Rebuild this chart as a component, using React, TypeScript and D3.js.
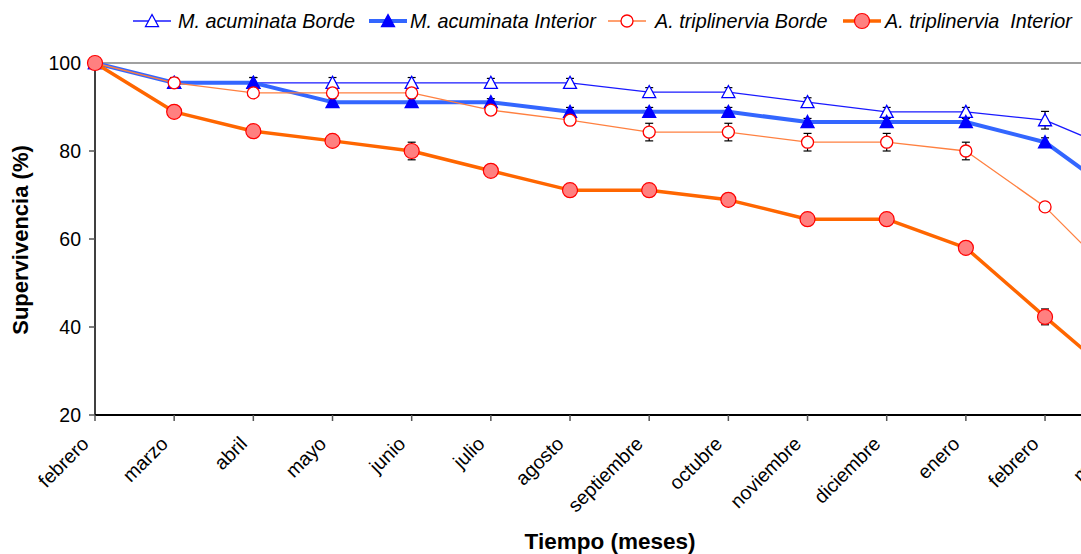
import React from "react";
import * as d3 from "d3";

const months = [
  "febrero", "marzo", "abril", "mayo", "junio", "julio", "agosto",
  "septiembre", "octubre", "noviembre", "diciembre", "enero", "febrero", "marzo",
];

const yTicks = [20, 40, 60, 80, 100];

const maBorde = [100, 95.5, 95.5, 95.5, 95.5, 95.5, 95.5, 93.4, 93.4, 91.1, 88.9, 88.9, 87, 79.5];
const maBordeErr = [0, 0.6, 1.2, 1.2, 1.2, 1.0, 1.0, 1.0, 1.0, 1.0, 1.0, 1.0, 2.0, 0];
const maInterior = [100, 95.5, 95.5, 91.1, 91.1, 91.1, 88.9, 88.9, 88.9, 86.6, 86.6, 86.6, 82, 69];
const maInteriorErr = [0, 1.2, 1.2, 0.8, 0.8, 0.8, 1.0, 1.0, 1.0, 0.8, 0.8, 0.8, 1.0, 0];
const atBorde = [100, 95.5, 93.2, 93.2, 93.2, 89.3, 87, 84.3, 84.3, 82, 82, 80, 67.3, 49.3];
const atBordeErr = [0, 0.5, 0.8, 0.8, 0.8, 0.8, 1.0, 2.0, 2.0, 2.0, 2.0, 2.0, 1.0, 0];
const atInterior = [100, 88.9, 84.5, 82.3, 80, 75.5, 71.1, 71.1, 68.9, 64.5, 64.5, 58, 42.3, 27];
const atInteriorErr = [0, 0, 0, 0, 2.0, 0, 0, 0, 0, 0, 0, 0, 1.8, 0];

type Series = {
  name: string;
  values: number[];
  err: number[];
  line: string;
  width: number;
  marker: "triOpen" | "triFill" | "circOpen" | "circFill";
};

const series: Series[] = [
  { name: "M. acuminata Borde", values: maBorde, err: maBordeErr, line: "#1a1aff", width: 1.3, marker: "triOpen" },
  { name: "M. acuminata Interior", values: maInterior, err: maInteriorErr, line: "#3366ff", width: 4, marker: "triFill" },
  { name: "A. triplinervia Borde", values: atBorde, err: atBordeErr, line: "#ff8040", width: 1.3, marker: "circOpen" },
  { name: "A. triplinervia\u00a0\u00a0Interior", values: atInterior, err: atInteriorErr, line: "#ff6600", width: 3.5, marker: "circFill" },
];

const W = 1081;
const H = 554;
const left = 95;
const top = 63;
const bottom = 415;
const step = 79.17;

const x = d3.scaleLinear().domain([0, months.length - 1]).range([left, left + step * (months.length - 1)]);
const y = d3.scaleLinear().domain([20, 100]).range([bottom, top]);

const font = "'Liberation Sans', Arial, sans-serif";

function Marker({ kind, cx, cy }: { kind: Series["marker"]; cx: number; cy: number }) {
  if (kind === "triOpen" || kind === "triFill") {
    const s = 6.5;
    const pts = `${cx},${cy - s} ${cx + s},${cy + s * 0.85} ${cx - s},${cy + s * 0.85}`;
    return (
      <polygon
        points={pts}
        fill={kind === "triFill" ? "#0000ff" : "#ffffff"}
        stroke="#0000ff"
        strokeWidth={1.3}
      />
    );
  }
  if (kind === "circOpen") {
    return <circle cx={cx} cy={cy} r={6} fill="#ffffff" stroke="#ff0000" strokeWidth={1.3} />;
  }
  return <circle cx={cx} cy={cy} r={7.5} fill="#ff8080" stroke="#ff0000" strokeWidth={1.2} />;
}

export default function App() {
  const lineGen = d3
    .line<number>()
    .x((_, i) => x(i))
    .y((d) => y(d));

  const legendItems = [
    { lx: 133, tx: 178 },
    { lx: 369, tx: 410 },
    { lx: 608, tx: 655 },
    { lx: 843, tx: 885 },
  ];

  return (
    <svg
      width={W}
      height={H}
      style={{ position: "absolute", left: 0, top: 0, background: "#ffffff" }}
      fontFamily={font}
    >
      {/* frame line at the top of the plot area */}
      <line x1={left} x2={W} y1={top} y2={top} stroke="#808080" strokeWidth={1.5} />

      {/* y axis */}
      <line x1={left} x2={left} y1={top} y2={bottom} stroke="#000" strokeWidth={1.5} />
      {yTicks.map((t) => (
        <g key={t}>
          <line x1={left - 6} x2={left} y1={y(t)} y2={y(t)} stroke="#555" strokeWidth={1.5} />
          <text x={left - 14} y={y(t)} dy="0.36em" textAnchor="end" fontSize={19.5} fill="#000">
            {t}
          </text>
        </g>
      ))}

      {/* x axis */}
      <line x1={left} x2={W} y1={bottom} y2={bottom} stroke="#000" strokeWidth={2} />
      {months.map((m, i) => (
        <g key={i}>
          <line x1={x(i)} x2={x(i)} y1={bottom} y2={bottom + 6} stroke="#555" strokeWidth={1.5} />
          <text
            transform={`translate(${x(i) - 5},${bottom + 30}) rotate(-45)`}
            textAnchor="end"
            fontSize={19.5}
            fill="#000"
          >
            {m}
          </text>
        </g>
      ))}

      {/* axis titles */}
      <text
        transform={`translate(28,${(top + bottom) / 2 + 1}) rotate(-90)`}
        textAnchor="middle"
        fontSize={22}
        fontWeight="bold"
        fill="#000"
      >
        Supervivencia (%)
      </text>
      <text x={610} y={549} textAnchor="middle" fontSize={22.5} fontWeight="bold" fill="#000">
        Tiempo (meses)
      </text>

      {/* series */}
      {series.map((s) => (
        <g key={s.name}>
          <path d={lineGen(s.values) || ""} fill="none" stroke={s.line} strokeWidth={s.width} strokeLinejoin="round" />
          {s.values.map((v, i) =>
            s.err[i] > 0 ? (
              <g key={i} stroke="#000" strokeWidth={1.2}>
                <line x1={x(i)} x2={x(i)} y1={y(v + s.err[i])} y2={y(v - s.err[i])} />
                <line x1={x(i) - 4} x2={x(i) + 4} y1={y(v + s.err[i])} y2={y(v + s.err[i])} />
                <line x1={x(i) - 4} x2={x(i) + 4} y1={y(v - s.err[i])} y2={y(v - s.err[i])} />
              </g>
            ) : null
          )}
          {s.values.map((v, i) => (
            <Marker key={"m" + i} kind={s.marker} cx={x(i)} cy={y(v)} />
          ))}
        </g>
      ))}

      {/* legend */}
      {series.map((s, k) => {
        const it = legendItems[k];
        const ly = 21;
        return (
          <g key={"lg" + k}>
            <line x1={it.lx} x2={it.lx + 38} y1={ly} y2={ly} stroke={s.line} strokeWidth={s.width} />
            <Marker kind={s.marker} cx={it.lx + 19} cy={ly} />
            <text x={it.tx} y={ly} dy="0.36em" fontSize={19.8} fontStyle="italic" fill="#000">
              {s.name}
            </text>
          </g>
        );
      })}
    </svg>
  );
}
